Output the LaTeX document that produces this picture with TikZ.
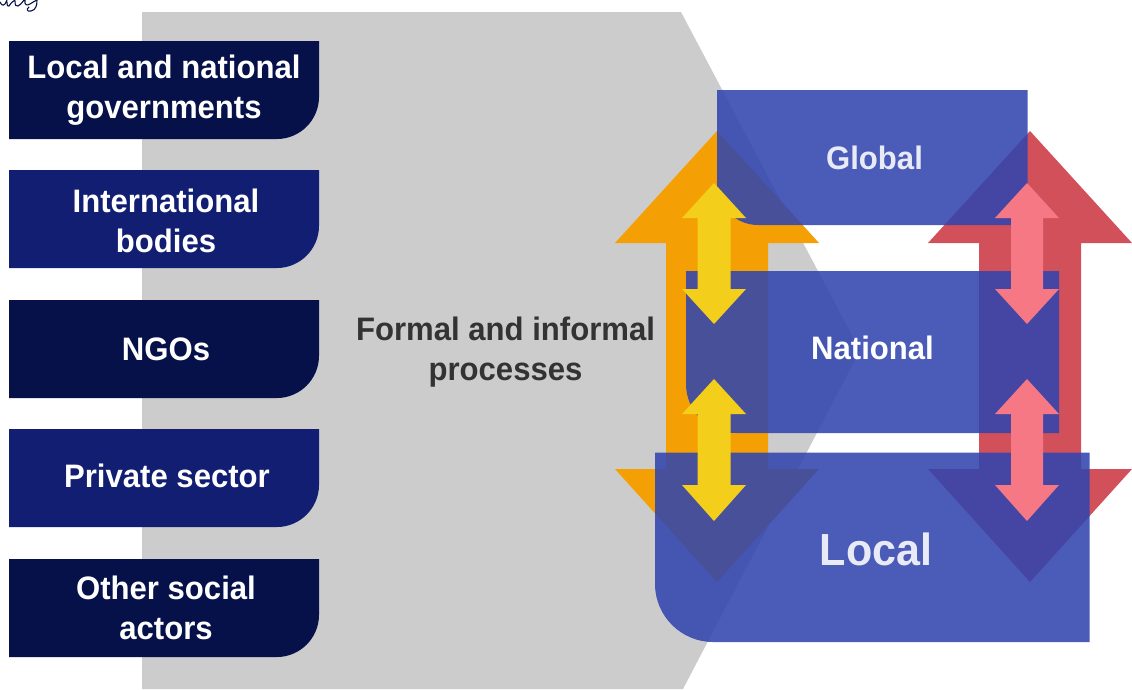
\documentclass[tikz,border=0pt]{standalone}
\usepackage{fontspec}
\setmainfont[FakeStretch=0.957]{Liberation Sans}
\definecolor{navyA}{HTML}{06114A}
\definecolor{navyB}{HTML}{121E72}
\definecolor{grayBg}{HTML}{CCCCCC}
\definecolor{orangeBig}{HTML}{F4A004}
\definecolor{redBig}{HTML}{D2505A}
\definecolor{yellowSmall}{HTML}{F3CE1B}
\definecolor{pinkSmall}{HTML}{F57884}
\definecolor{levelBlue}{HTML}{3245AF}
\definecolor{levelText}{HTML}{E8EBF6}
\definecolor{darkText}{HTML}{333333}
\tikzset{
  sidetext/.style={text=white,font=\fontsize{32.5}{40}\selectfont\bfseries,align=center,inner sep=0pt},
  leveltext/.style={text=levelText,font=\fontsize{32.5}{40}\selectfont\bfseries,inner sep=0pt},
  levelbox/.style={fill=levelBlue,fill opacity=.88},
}
% #1 colour, #2 x centre, #3 half head, #4 half shaft, #5 tip top, #6 base top, #7 base bottom, #8 tip bottom
\newcommand{\dblarrow}[8]{%
  \fill[#1] (#2,#5) -- (#2+#3,#6) -- (#2+#4,#6) -- (#2+#4,#7) -- (#2+#3,#7) -- (#2,#8)
    -- (#2-#3,#7) -- (#2-#4,#7) -- (#2-#4,#6) -- (#2-#3,#6) -- cycle;}
% #1 left, #2 right, #3 top, #4 bottom, #5 radius : rounded bottom-left corner
\newcommand{\levelrect}[5]{%
  \fill[levelbox] (#1,#3) -- (#2,#3) -- (#2,#4) -- (#1+#5,#4)
    .. controls (#1+0.45*#5,#4) and (#1,#4-0.45*#5) .. (#1,#4-#5) -- cycle;}
\newcommand{\sidebox}[6]{%
  \fill[#2] (9,#3) -- (319,#3) -- (319,#3+56)
    .. controls (319,#3+79) and (300,#3+98) .. (277,#3+98) -- (9,#3+98) -- cycle;
  \node[sidetext] (#1) at (#5,#3+#6) {#4};}
\begin{document}
\begin{tikzpicture}[x=1pt,y=-1pt]
\useasboundingbox (0,0) rectangle (1132,689);
\fill[white] (0,0) rectangle (1132,689);
% background process shape
\fill[grayBg] (142,12) -- (681,12) -- (860,350.5) -- (683,689) -- (142,689) -- cycle;
% handwriting fragment
\draw[navyA,line width=1.1pt,line cap=round,line join=round]
  (0,2) .. controls (2,7) and (5,6) .. (7,0)
  (7,2) .. controls (7,6) and (8,7) .. (9,6) .. controls (11,3) and (13,1) .. (15,0)
  (15,1) .. controls (15,5) and (16,7) .. (18,6) .. controls (20,5) and (22,3) .. (24,0)
  (25,0) .. controls (24,5) and (27,6) .. (30,4) .. controls (33,2) and (35,1) .. (37,0)
  (37,0) .. controls (37,5) and (36,10) .. (31,11) .. controls (27,12) and (26,9) .. (29,7);
% big arrows
\dblarrow{orangeBig}{717}{102}{51}{131}{243}{469}{582}
\dblarrow{redBig}{1030}{102}{51}{131}{243}{469}{582}
% level boxes
\levelrect{717}{1027.5}{90}{225}{41}
\levelrect{686}{1059}{271}{433}{49}
\levelrect{655}{1089.5}{452.5}{642}{58}
% small arrows
\dblarrow{yellowSmall}{714}{32}{16.5}{183}{218}{289}{324}
\dblarrow{yellowSmall}{714}{32}{16.5}{379}{414}{485}{521}
\dblarrow{pinkSmall}{1027}{32}{16}{183}{218}{289}{324}
\dblarrow{pinkSmall}{1027}{32}{16}{379}{414}{485}{521}
% side boxes
\sidebox{gov}{navyA}{41}{Local and national\\governments}{164}{49}
\sidebox{intl}{navyB}{170}{International\\bodies}{166}{51}
\sidebox{ngo}{navyA}{300}{NGOs}{166}{49}
\sidebox{priv}{navyB}{429}{Private sector}{167}{47}
\sidebox{other}{navyA}{559}{Other social\\actors}{166}{49}
% labels
\node[sidetext,text=darkText] (proc) at (505.5,352) {Formal and informal\\processes};
\node[leveltext] (global) at (874.5,158) {Global};
\node[leveltext,text=white] (national) at (872.5,348) {National};
\node[leveltext,font=\fontsize{45}{50}\selectfont\bfseries] (local) at (876,549) {Local};
\end{tikzpicture}
\end{document}
